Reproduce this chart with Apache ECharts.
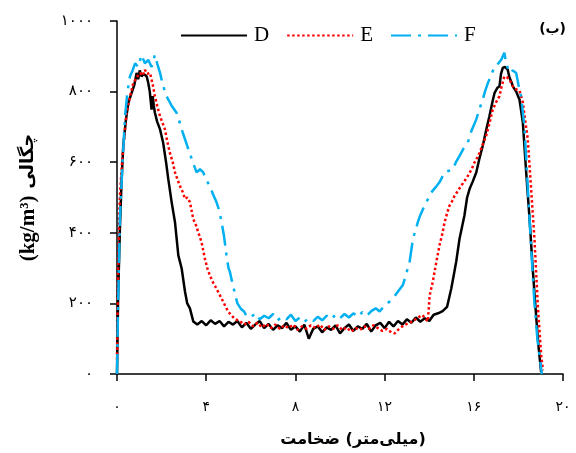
<!DOCTYPE html>
<html>
<head>
<meta charset="utf-8">
<script src="https://cdn.jsdelivr.net/npm/echarts@6/dist/echarts.min.js"></script>
<style>html,body{margin:0;padding:0;background:#fff;}#c{width:576px;height:453px;}</style>
</head>
<body>
<div id="c"></div>
<script>
const seriesNames = ['D', 'E', 'F'];
const xTickLabels = ['۰', '۴', '۸', '۱۲', '۱۶', '۲۰'];
const yTickLabels = ['۰', '۲۰۰', '۴۰۰', '۶۰۰', '۸۰۰', '۱۰۰۰'];

const xD = [0,0.05,0.13,0.2,0.28,0.4,0.51,0.66,0.78,0.88,0.95,1.02,1.1,1.2,1.33,1.4,1.47,1.55,1.6,1.65,1.7,1.8,1.93,2.07,2.2,2.3,2.45,2.6,2.75,2.9,3.05,3.15,3.27,3.42,
  3.6,3.8,4.0,4.2,4.4,4.6,4.8,5.0,5.2,5.4,5.6,5.8,6.0,6.2,6.4,6.6,6.8,7.0,7.2,7.4,7.6,7.8,8.0,8.2,8.4,8.6,8.8,9.0,9.2,9.4,9.6,9.8,10.0,10.2,10.4,10.6,10.8,11.0,11.2,11.4,11.6,11.8,12.0,12.2,12.4,12.6,12.8,13.0,13.2,13.4,13.6,13.8,14.0,14.2,14.4,14.6,14.8,
  14.99,15.1,15.21,15.36,15.58,15.7,15.81,15.95,16.11,16.25,16.4,16.55,16.7,16.85,16.93,17.05,17.15,17.22,17.3,17.4,17.52,17.6,17.7,17.75,17.9,18.05,18.2,18.35,18.5,18.64,18.8,18.9,19.02];
const yD = [0,220,411,540,646,720,769,797,820,853,835,860,843,850,843,825,800,749,787,760,740,715,693,655,600,552,487,430,336,299,233,200,186,149,
  140,150,138,152,142,150,135,148,140,150,132,145,128,140,150,130,142,125,138,130,145,125,135,120,140,100,128,135,118,132,125,138,115,130,140,122,135,128,142,120,138,145,130,148,135,150,140,155,145,160,148,158,150,168,172,178,190,
  242,280,318,383,449,500,524,545,571,610,646,690,730,775,796,810,815,850,867,870,862,840,825,815,800,777,712,570,440,300,160,80,5];

const xE = [0,0.05,0.13,0.25,0.43,0.6,0.73,0.88,1.03,1.15,1.25,1.35,1.48,1.6,1.7,1.8,1.93,2.05,2.15,2.25,2.37,2.5,2.6,2.72,2.82,2.95,3.05,3.15,3.27,3.42,3.55,3.64,3.79,3.94,4.05,4.16,4.3,4.46,4.6,4.76,4.98,5.15,5.3,
  5.5,5.7,5.9,6.1,6.3,6.5,6.7,6.9,7.1,7.3,7.5,7.7,7.9,8.1,8.3,8.5,8.7,8.9,9.1,9.3,9.5,9.7,9.9,10.1,10.3,10.5,10.7,10.9,11.1,11.3,11.5,11.7,11.9,12.1,12.3,12.45,12.6,12.8,13.0,13.27,13.5,13.7,13.85,13.94,
  14.02,14.16,14.32,14.46,14.6,14.69,14.8,14.91,15.03,15.14,15.3,15.43,15.6,15.73,15.9,16.03,16.15,16.26,16.4,16.55,16.7,16.85,17.0,17.15,17.25,17.37,17.5,17.6,17.75,17.9,18.05,18.12,18.2,18.3,18.42,18.57,18.72,18.87,19.02,19.1];
const yE = [40,300,505,620,740,790,824,840,853,845,862,850,853,820,787,760,730,710,693,660,627,600,571,550,533,515,496,500,487,439,420,402,374,327,300,280,260,242,225,205,177,165,155,
  150,140,148,135,145,132,142,130,140,128,138,130,140,125,135,128,138,130,140,125,135,128,138,125,132,120,130,125,135,128,138,130,122,128,118,115,125,135,142,149,160,167,155,149,
  223,261,317,364,400,430,455,477,490,505,520,533,548,561,580,599,612,627,650,674,710,749,770,787,815,843,840,834,815,806,803,801,769,720,666,524,383,195,54,10];

const xF = [0,0.05,0.13,0.25,0.36,0.47,0.58,0.7,0.81,0.95,1.1,1.25,1.4,1.55,1.7,1.8,1.93,2.05,2.22,2.45,2.67,2.8,2.9,3.05,3.2,3.4,3.57,3.72,3.87,4.0,4.16,4.3,4.46,4.6,4.69,4.8,4.91,5.0,5.06,5.2,5.4,5.55,5.7,5.8,
  6.0,6.2,6.4,6.6,6.8,7.0,7.2,7.4,7.6,7.8,8.0,8.2,8.4,8.6,8.8,9.0,9.2,9.4,9.6,9.8,10.0,10.2,10.4,10.6,10.8,11.0,11.2,11.4,11.6,11.78,12.0,12.22,12.5,12.82,12.95,13.12,13.27,13.4,13.49,13.6,13.72,13.9,14.09,14.3,14.46,14.6,14.69,14.85,15.06,15.2,15.36,15.55,15.73,15.9,16.11,16.25,16.4,16.5,16.63,16.8,16.93,17.1,17.23,17.37,17.45,17.6,17.75,17.9,18.0,18.12,18.27,18.42,18.57,18.72,18.85,19.05];
const yF = [0,200,440,600,730,800,843,860,880,870,904,880,890,870,904,880,853,820,787,760,740,715,693,665,637,600,571,580,571,550,533,510,487,460,430,390,336,300,290,250,200,185,177,165,
  160,172,155,165,158,170,152,162,155,168,150,160,148,158,150,162,152,165,155,168,158,170,160,172,162,175,165,178,186,177,195,205,225,252,280,317,383,410,430,450,467,490,514,530,543,560,571,575,580,600,618,640,655,690,721,750,777,800,824,850,871,880,890,910,880,853,860,853,820,787,700,530,360,200,100,0];

function pairs(xs, ys) { return xs.map((x, i) => [x, ys[i]]); }

const persianFont = 'DejaVu Sans';
const chart = echarts.init(document.getElementById('c'), null, {renderer: 'canvas'});
chart.setOption({
  animation: false,
  backgroundColor: '#fff',
  grid: {left: 117, right: 13, top: 21, bottom: 77, containLabel: false},
  legend: {
    top: 20, left: 175,
    itemWidth: 66, itemHeight: 4, itemGap: 17,
    textStyle: {fontFamily: 'Liberation Serif', fontSize: 21, color: '#000', padding: [0, 0, 0, 2]},
    itemStyle: {opacity: 0},
    data: seriesNames
  },
  graphic: [{
    type: 'text', right: 10, top: 22,
    style: {text: '(ب)', font: 'bold 14px "DejaVu Sans"', fill: '#000'}
  }],
  xAxis: {
    type: 'value', min: 0, max: 20, interval: 4,
    name: 'ضخامت\u200E (\u200Eمیلی‌متر\u200E)',
    nameLocation: 'middle', nameGap: 58,
    nameTextStyle: {fontFamily: persianFont, fontWeight: 'bold', fontSize: 16, color: '#000', padding: [0, 0, 0, 26]},
    axisLine: {lineStyle: {color: '#000', width: 1.5}},
    axisTick: {length: 7, lineStyle: {color: '#000', width: 1.5}},
    axisLabel: {margin: 26, fontFamily: persianFont, fontSize: 14, color: '#000',
      formatter: v => xTickLabels[Math.round(v / 4)]},
    splitLine: {show: false}
  },
  yAxis: {
    type: 'value', min: 0, max: 1000, interval: 200,
    name: '{a|(kg/m³)}  {b|چگالی}',
    nameLocation: 'middle', nameGap: 78, nameRotate: 90,
    nameTextStyle: {rich: {
      a: {fontFamily: 'Liberation Serif', fontWeight: 'bold', fontSize: 21, color: '#000'},
      b: {fontFamily: persianFont, fontWeight: 'bold', fontSize: 18, color: '#000'}
    }},
    axisLine: {show: true, lineStyle: {color: '#000', width: 1.5}},
    axisTick: {show: true, length: 7, lineStyle: {color: '#000', width: 1.5}},
    axisLabel: {margin: 24, fontFamily: persianFont, fontSize: 15, color: '#000',
      formatter: v => yTickLabels[Math.round(v / 200)]},
    splitLine: {show: false}
  },
  series: [
    {name: seriesNames[0], type: 'line', data: pairs(xD, yD), symbol: 'none', smooth: false,
      lineStyle: {color: '#000', width: 2.5}, itemStyle: {color: '#000'}},
    {name: seriesNames[1], type: 'line', data: pairs(xE, yE), symbol: 'none',
      lineStyle: {color: '#ff0000', width: 2.5, type: [2.5, 2.5]}, itemStyle: {color: '#ff0000'}},
    {name: seriesNames[2], type: 'line', data: pairs(xF, yF), symbol: 'none',
      lineStyle: {color: '#00b0f0', width: 2.5, type: [20, 7, 3, 7]}, itemStyle: {color: '#00b0f0'}}
  ]
});
</script>
</body>
</html>
